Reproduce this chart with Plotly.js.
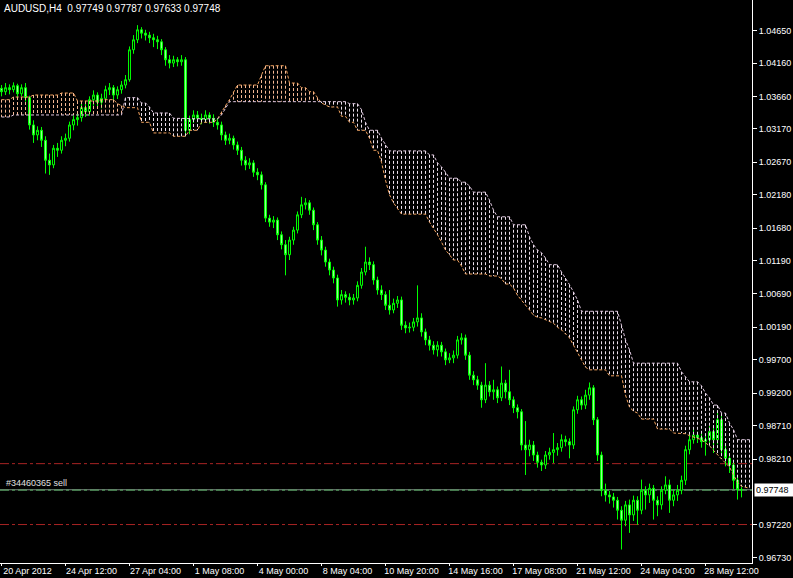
<!DOCTYPE html>
<html><head><meta charset="utf-8">
<script src="https://cdn.plot.ly/plotly-3.0.1.min.js"></script>
<style>html,body{margin:0;padding:0;background:#000;} #chart{width:793px;height:578px;}</style>
</head><body><div id="chart"></div>
<script>
const symbolTitle = "AUDUSD,H4  0.97749 0.97787 0.97633 0.97748";
const orderLabel = "#34460365 sell";
const bidPrice = 0.97748;
const orderPrice = 0.97742;
const upperLevel = 0.98140;
const lowerLevel = 0.97225;

const xTickIdx = [0,16,32,48,64,80,96,112,128,144,160,176];
const xTickText = ["20 Apr 2012","24 Apr 12:00","27 Apr 04:00","1 May 08:00","4 May 00:00","8 May 04:00","10 May 20:00","14 May 16:00","17 May 08:00","21 May 12:00","24 May 04:00","28 May 12:00"];
const yTickVals = [1.04650,1.04160,1.03660,1.03170,1.02670,1.02180,1.01680,1.01190,1.00690,1.00190,0.99700,0.99200,0.98710,0.98210,0.97220,0.96730];
const yTickText = ["1.04650","1.04160","1.03660","1.03170","1.02670","1.02180","1.01680","1.01190","1.00690","1.00190","0.99700","0.99200","0.98710","0.98210","0.97220","0.96730"];

const barOpen = [
1.0378,1.0373,1.0379,1.0376,1.0382,1.0370,1.0379,1.0364,1.0323,1.0308,
1.0315,1.0300,1.0270,1.0263,1.0288,1.0285,1.0300,1.0303,1.0323,1.0331,
1.0334,1.0349,1.0343,1.0361,1.0368,1.0357,1.0363,1.0376,1.0379,1.0368,
1.0376,1.0383,1.0391,1.0436,1.0451,1.0466,1.0461,1.0458,1.0454,1.0451,
1.0448,1.0436,1.0421,1.0416,1.0421,1.0418,1.0421,1.0315,1.0331,1.0338,
1.0333,1.0331,1.0338,1.0333,1.0327,1.0323,1.0308,1.0300,1.0303,1.0293,
1.0285,1.0270,1.0263,1.0266,1.0252,1.0248,1.0233,1.0183,1.0177,1.0180,
1.0158,1.0143,1.0128,1.0150,1.0165,1.0188,1.0203,1.0206,1.0195,1.0173,
1.0150,1.0135,1.0117,1.0105,1.0093,1.0060,1.0068,1.0064,1.0060,1.0063,
1.0082,1.0102,1.0117,1.0113,1.0090,1.0075,1.0068,1.0052,1.0045,1.0055,
1.0060,1.0022,1.0018,1.0019,1.0027,1.0033,1.0012,1.0000,0.9992,0.9985,
0.9992,0.9982,0.9970,0.9973,0.9977,1.0000,1.0003,0.9977,0.9947,0.9940,
0.9932,0.9910,0.9932,0.9922,0.9925,0.9913,0.9935,0.9922,0.9910,0.9898,
0.9892,0.9842,0.9835,0.9842,0.9827,0.9816,0.9812,0.9827,0.9831,0.9835,
0.9838,0.9850,0.9847,0.9842,0.9895,0.9910,0.9902,0.9917,0.9928,0.9880,
0.9827,0.9774,0.9767,0.9764,0.9759,0.9744,0.9729,0.9752,0.9737,0.9759,
0.9744,0.9774,0.9767,0.9777,0.9759,0.9752,0.9774,0.9782,0.9759,0.9767,
0.9774,0.9789,0.9835,0.9850,0.9857,0.9853,0.9847,0.9850,0.9862,0.9850,
0.9880,0.9835,0.9822,0.9812,0.9789,0.97749];

const barHigh = [
1.0383,1.0386,1.0384,1.0387,1.0385,1.0384,1.0386,1.0367,1.0330,1.0321,
1.0320,1.0306,1.0280,1.0293,1.0296,1.0306,1.0310,1.0328,1.0337,1.0341,
1.0355,1.0358,1.0366,1.0375,1.0372,1.0370,1.0382,1.0386,1.0383,1.0381,
1.0389,1.0398,1.0441,1.0458,1.0473,1.0470,1.0466,1.0463,1.0460,1.0457,
1.0452,1.0440,1.0428,1.0427,1.0425,1.0428,1.0425,1.0337,1.0345,1.0344,
1.0340,1.0345,1.0342,1.0339,1.0333,1.0328,1.0313,1.0310,1.0307,1.0298,
1.0290,1.0276,1.0273,1.0270,1.0258,1.0253,1.0237,1.0188,1.0186,1.0184,
1.0163,1.0150,1.0155,1.0170,1.0193,1.0215,1.0213,1.0210,1.0199,1.0177,
1.0156,1.0140,1.0122,1.0110,1.0098,1.0075,1.0073,1.0070,1.0069,1.0088,
1.0108,1.0140,1.0124,1.0118,1.0095,1.0082,1.0073,1.0075,1.0062,1.0066,
1.0065,1.0028,1.0026,1.0033,1.0082,1.0040,1.0017,1.0006,0.9998,0.9998,
0.9997,0.9987,0.9980,0.9984,1.0006,1.0010,1.0008,0.9982,0.9953,0.9946,
0.9937,0.9965,0.9938,0.9940,0.9930,0.9960,0.9940,0.9955,0.9915,0.9903,
0.9896,0.9878,0.9850,0.9848,0.9832,0.9820,0.9833,0.9838,0.9860,0.9845,
0.9858,0.9856,0.9852,0.9900,0.9916,0.9915,0.9925,0.9936,0.9932,0.9884,
0.9832,0.9784,0.9773,0.9770,0.9764,0.9750,0.9758,0.9760,0.9766,0.9765,
0.9790,0.9780,0.9784,0.9782,0.9765,0.9780,0.9795,0.9790,0.9775,0.9782,
0.9796,0.9841,0.9858,0.9866,0.9862,0.9860,0.9858,0.9870,0.9868,0.9890,
0.9886,0.9845,0.9828,0.9818,0.9795,0.97787];

const barLow = [
1.0366,1.0368,1.0369,1.0372,1.0364,1.0366,1.0358,1.0316,1.0296,1.0300,
1.0290,1.0250,1.0248,1.0258,1.0275,1.0280,1.0291,1.0298,1.0315,1.0322,
1.0328,1.0335,1.0337,1.0352,1.0350,1.0348,1.0358,1.0368,1.0360,1.0362,
1.0370,1.0378,1.0388,1.0430,1.0446,1.0453,1.0450,1.0446,1.0440,1.0437,
1.0428,1.0412,1.0408,1.0410,1.0411,1.0412,1.0306,1.0309,1.0326,1.0327,
1.0324,1.0326,1.0325,1.0320,1.0316,1.0300,1.0293,1.0294,1.0286,1.0278,
1.0262,1.0255,1.0257,1.0245,1.0240,1.0226,1.0177,1.0170,1.0168,1.0150,
1.0136,1.0097,1.0120,1.0143,1.0160,1.0183,1.0196,1.0188,1.0165,1.0143,
1.0127,1.0110,1.0097,1.0085,1.0050,1.0053,1.0056,1.0052,1.0053,1.0058,
1.0077,1.0097,1.0105,1.0083,1.0068,1.0060,1.0045,1.0038,1.0040,1.0048,
1.0015,1.0010,1.0011,1.0013,1.0020,1.0005,0.9992,0.9984,0.9978,0.9975,
0.9975,0.9962,0.9965,0.9965,0.9972,0.9993,0.9970,0.9940,0.9932,0.9925,
0.9898,0.9905,0.9915,0.9910,0.9905,0.9908,0.9912,0.9902,0.9890,0.9882,
0.9834,0.9797,0.9825,0.9818,0.9808,0.9803,0.9806,0.9820,0.9815,0.9826,
0.9832,0.9840,0.9822,0.9836,0.9889,0.9895,0.9896,0.9910,0.9872,0.9818,
0.9765,0.9757,0.9754,0.9748,0.9730,0.9685,0.9720,0.9710,0.9728,0.9722,
0.9738,0.9745,0.9755,0.9730,0.9735,0.9745,0.9768,0.9740,0.9750,0.9758,
0.9768,0.9782,0.9828,0.9844,0.9845,0.9838,0.9826,0.9843,0.9830,0.9843,
0.9826,0.9810,0.9800,0.9776,0.9760,0.97633];

const barClose = [
1.0373,1.0379,1.0376,1.0382,1.0370,1.0379,1.0364,1.0323,1.0308,1.0315,
1.0300,1.0270,1.0263,1.0288,1.0285,1.0300,1.0303,1.0323,1.0331,1.0334,
1.0349,1.0343,1.0361,1.0368,1.0357,1.0363,1.0376,1.0379,1.0368,1.0376,
1.0383,1.0391,1.0436,1.0451,1.0466,1.0461,1.0458,1.0454,1.0451,1.0448,
1.0436,1.0421,1.0416,1.0421,1.0418,1.0421,1.0315,1.0331,1.0338,1.0333,
1.0331,1.0338,1.0333,1.0327,1.0323,1.0308,1.0300,1.0303,1.0293,1.0285,
1.0270,1.0263,1.0266,1.0252,1.0248,1.0233,1.0183,1.0177,1.0180,1.0158,
1.0143,1.0128,1.0150,1.0165,1.0188,1.0203,1.0206,1.0195,1.0173,1.0150,
1.0135,1.0117,1.0105,1.0093,1.0060,1.0068,1.0064,1.0060,1.0063,1.0082,
1.0102,1.0117,1.0113,1.0090,1.0075,1.0068,1.0052,1.0045,1.0055,1.0060,
1.0022,1.0018,1.0019,1.0027,1.0033,1.0012,1.0000,0.9992,0.9985,0.9992,
0.9982,0.9970,0.9973,0.9977,1.0000,1.0003,0.9977,0.9947,0.9940,0.9932,
0.9910,0.9932,0.9922,0.9925,0.9913,0.9935,0.9922,0.9910,0.9898,0.9892,
0.9842,0.9835,0.9842,0.9827,0.9816,0.9812,0.9827,0.9831,0.9835,0.9838,
0.9850,0.9847,0.9842,0.9895,0.9910,0.9902,0.9917,0.9928,0.9880,0.9827,
0.9774,0.9767,0.9764,0.9759,0.9744,0.9729,0.9752,0.9737,0.9759,0.9744,
0.9774,0.9767,0.9777,0.9759,0.9752,0.9774,0.9782,0.9759,0.9767,0.9774,
0.9789,0.9835,0.9850,0.9857,0.9853,0.9847,0.9850,0.9862,0.9850,0.9880,
0.9835,0.9822,0.9812,0.9789,0.97749,0.97748];

const spanA = [
1.0361,1.0361,1.0361,
1.0365,1.0365,1.0365,1.0365,1.0365,
1.0368,1.0368,1.0368,1.0368,1.0368,1.0368,1.0368,
1.0371,1.0371,1.0371,1.0371,
1.0359,1.0359,1.0359,1.0359,1.0359,1.0359,
1.0361,1.0361,1.0361,1.0361,
1.0355,1.0352,
1.0349,1.0349,1.0349,1.0349,
1.0327,1.0327,1.0327,
1.0311,1.0311,1.0311,1.0311,1.0311,
1.0306,1.0306,1.0306,1.0306,
1.0315,1.0315,1.0315,
1.0327,1.0327,1.0327,1.0327,
1.0332,1.0343,1.0352,1.0361,1.0373,
1.0383,1.0383,1.0383,1.0383,1.0383,1.0383,
1.0398,
1.0412,1.0412,1.0412,1.0412,1.0412,1.0412,
1.0386,1.0386,1.0386,
1.0379,1.0379,
1.0373,1.0373,
1.0364,1.0356,1.0353,
1.0350,1.0350,1.0350,
1.0336,1.0336,
1.0327,1.0327,
1.0315,1.0315,1.0315,
1.0303,
1.0285,1.0285,
1.0267,1.0240,1.0218,1.0206,1.0198,
1.0189,1.0189,1.0189,1.0189,1.0189,1.0189,1.0189,
1.0177,1.0168,1.0158,1.0147,1.0135,1.0128,
1.0120,1.0120,
1.0111,
1.0099,1.0099,1.0099,1.0099,1.0099,1.0099,
1.0096,1.0096,1.0096,
1.0092,
1.0084,1.0084,
1.0078,1.0067,1.0060,1.0052,1.0045,1.0037,1.0034,1.0033,1.0030,1.0027,
1.0025,1.0019,1.0015,1.0009,1.0003,0.9992,0.9982,0.9970,0.9959,
0.9955,0.9955,0.9955,0.9955,0.9955,
0.9946,0.9946,0.9946,0.9946,
0.9917,0.9899,0.9893,0.9890,
0.9881,0.9881,0.9881,0.9881,
0.9866,0.9866,0.9866,0.9866,
0.9860,0.9860,0.9860,
0.9859,0.9856,0.9854,0.9853,0.9850,0.9845,0.9841,0.9834,0.9827,0.9821,
0.9815,0.9809,0.9797,0.9786,0.9780,0.9779,0.9777];

const spanB = [
1.0335,1.0335,1.0335,
1.0338,1.0338,1.0338,1.0338,1.0338,1.0338,1.0338,1.0338,1.0338,1.0338,
1.0338,1.0338,1.0338,1.0338,1.0338,1.0338,1.0338,1.0338,1.0338,1.0338,
1.0338,1.0338,1.0338,1.0338,1.0338,1.0338,1.0338,1.0338,
1.0364,1.0364,1.0364,1.0364,
1.0356,1.0356,
1.0350,
1.0341,1.0341,1.0341,1.0341,1.0341,
1.0333,1.0333,1.0333,1.0333,
1.0332,1.0332,1.0332,1.0332,1.0332,1.0332,1.0332,1.0332,
1.0338,1.0349,
1.0358,1.0358,1.0358,1.0358,1.0358,1.0358,1.0358,1.0358,1.0358,1.0358,
1.0358,1.0358,1.0358,1.0358,1.0358,1.0358,1.0358,1.0358,1.0358,1.0358,
1.0358,1.0358,1.0358,1.0358,1.0358,1.0358,1.0358,1.0358,1.0358,1.0358,
1.0355,1.0355,1.0355,
1.0346,1.0327,
1.0315,1.0315,1.0315,
1.0303,1.0293,
1.0284,1.0284,1.0284,1.0284,1.0284,1.0284,1.0284,1.0284,1.0284,1.0284,
1.0278,1.0278,
1.0266,1.0260,1.0252,
1.0243,1.0243,1.0243,
1.0237,1.0237,
1.0231,
1.0222,1.0222,1.0222,1.0222,
1.0210,1.0195,
1.0185,1.0185,1.0185,1.0185,
1.0173,1.0173,1.0173,1.0173,
1.0155,1.0143,1.0135,1.0131,1.0123,
1.0113,1.0113,1.0113,
1.0102,1.0093,1.0083,1.0072,1.0060,
1.0043,1.0043,1.0043,1.0043,1.0043,1.0043,1.0043,1.0043,1.0043,1.0043,
1.0022,1.0000,0.9985,
0.9965,0.9965,0.9965,0.9965,0.9965,0.9965,0.9965,0.9965,0.9965,0.9965,0.9965,0.9965,
0.9952,0.9944,
0.9937,0.9937,0.9937,
0.9931,0.9920,0.9913,
0.9902,0.9902,
0.9890,0.9890,
0.9875,0.9865,
0.9850,0.9850,0.9850,0.9850];

const barIdx = barOpen.map((_, i) => i);
const cloudIdx = spanA.map((_, i) => i);

// vertical hatching of the cloud, one dotted stroke per bar between the spans
const upX = [], upY = [], dnX = [], dnY = [];
spanA.forEach((a, i) => {
  const b = spanB[i];
  const hi = Math.max(a, b), lo = Math.min(a, b);
  if (a >= b) { upX.push(i, i, null); upY.push(hi, lo, null); }
  else { dnX.push(i, i, null); dnY.push(hi, lo, null); }
});

const sandy = '#f4b894';
const thistle = '#ece0ec';
const dotDash = '3px,2px';

const traces = [
  {type:'scatter', mode:'lines', x:upX, y:upY, line:{color:sandy, width:1, dash:dotDash}, hoverinfo:'skip'},
  {type:'scatter', mode:'lines', x:dnX, y:dnY, line:{color:thistle, width:1, dash:dotDash}, hoverinfo:'skip'},
  {type:'scatter', mode:'lines', x:cloudIdx, y:spanA, line:{color:'#f4a460', width:1, dash:dotDash}, hoverinfo:'skip'},
  {type:'scatter', mode:'lines', x:cloudIdx, y:spanB, line:{color:'#e0c8e0', width:1, dash:dotDash}, hoverinfo:'skip'},
  {type:'candlestick', x:barIdx, open:barOpen, high:barHigh, low:barLow, close:barClose,
   increasing:{line:{color:'#00ff00', width:1}, fillcolor:'#000000'},
   decreasing:{line:{color:'#00ff00', width:1}, fillcolor:'#9cff9c'},
   whiskerwidth:0, hoverinfo:'skip'}
];

const fontFam = 'Liberation Sans, Arial, sans-serif';
const layout = {
  width:793, height:578,
  margin:{l:0, r:41, t:0, b:15, pad:0},
  paper_bgcolor:'#000000', plot_bgcolor:'#000000',
  showlegend:false,
  xaxis:{range:[-0.375,187.625], tickmode:'array', tickvals:xTickIdx, ticktext:xTickText,
         ticks:'outside', ticklen:2, tickcolor:'#ffffff', showline:true, linecolor:'#ffffff', linewidth:1,
         showgrid:false, zeroline:false, rangeslider:{visible:false}, ticklabelshift:26, ticklabelstandoff:-3,
         tickfont:{family:fontFam, size:9, color:'#ffffff'}, fixedrange:true},
  yaxis:{side:'right', range:[0.96647,1.05108], tickmode:'array', tickvals:yTickVals, ticktext:yTickText,
         ticks:'outside', ticklen:4, tickcolor:'#ffffff', showline:true, linecolor:'#ffffff', linewidth:1,
         showgrid:false, zeroline:false,
         tickfont:{family:fontFam, size:9, color:'#ffffff'}, fixedrange:true},
  shapes:[
    {type:'line', xref:'paper', x0:0, x1:1, yref:'y', y0:upperLevel, y1:upperLevel, layer:'below',
     line:{color:'#a82424', width:1, dash:'9px,3px,3px,3px'}},
    {type:'line', xref:'paper', x0:0, x1:1, yref:'y', y0:lowerLevel, y1:lowerLevel, layer:'below',
     line:{color:'#a82424', width:1, dash:'9px,3px,3px,3px'}},
    {type:'line', xref:'paper', x0:0, x1:1, yref:'y', y0:bidPrice, y1:bidPrice, layer:'below',
     line:{color:'#7a8a80', width:1}},
    {type:'line', xref:'paper', x0:0, x1:1, yref:'y', y0:orderPrice, y1:orderPrice, layer:'below',
     line:{color:'#5fae6a', width:1, dash:'9px,3px,3px,3px'}}
  ],
  annotations:[
    {xref:'paper', yref:'paper', x:0, y:1, xanchor:'left', yanchor:'top', xshift:2, yshift:-1,
     text:symbolTitle, showarrow:false, font:{family:fontFam, size:10, color:'#ffffff'}},
    {xref:'paper', yref:'y', x:0, y:orderPrice, xanchor:'left', yanchor:'bottom', xshift:4, yshift:0,
     text:orderLabel, showarrow:false, font:{family:fontFam, size:9, color:'#e0e0e0'}},
    {xref:'paper', yref:'y', x:1, y:bidPrice, xanchor:'left', yanchor:'middle', xshift:2,
     text:'0.97748', showarrow:false, bgcolor:'#ffffff', borderpad:1, width:38, align:'left',
     font:{family:fontFam, size:9, color:'#000000'}}
  ]
};

Plotly.newPlot('chart', traces, layout, {staticPlot:true, displayModeBar:false});
</script></body></html>
